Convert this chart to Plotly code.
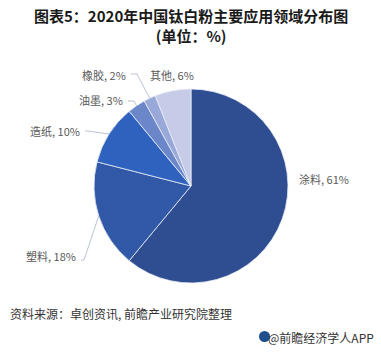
import math
import plotly.graph_objects as go

categories = ["涂料", "塑料", "造纸", "油墨", "橡胶", "其他"]
values = [61, 18, 10, 3, 2, 6]
colors = ["#2f4e92", "#3259a8", "#2f62be", "#6b86c9", "#98a8d8", "#c6cce8"]

title_line1 = "图表5：2020年中国钛白粉主要应用领域分布图"
title_line2 = "(单位：%)"
source_text = "资料来源：卓创资讯, 前瞻产业研究院整理"
brand_text = "@前瞻经济学人APP"

W, H = 381, 354
cx, cy, R = 191, 186, 97  # pie centre / radius in pixels

fig = go.Figure()
fig.add_trace(go.Pie(
    labels=categories,
    values=values,
    sort=False,
    direction="clockwise",
    rotation=0,
    marker=dict(colors=colors, line=dict(color="#e8ecf5", width=0.8)),
    textinfo="none",
    hoverinfo="label+percent",
    showlegend=False,
    domain=dict(x=[(cx - R) / W, (cx + R) / W], y=[(H - cy - R) / H, (H - cy + R) / H]),
))

# label layout: (text x, text y, anchor, leader elbow) in pixels
label_pos = {
    "涂料": (297, 179, "left", None),
    "塑料": (78, 256, "right", (84, 260)),
    "造纸": (82, 131, "right", (88, 131)),
    "油墨": (125, 100, "right", (134, 101)),
    "橡胶": (128, 75, "right", (137, 74)),
    "其他": (148, 75, "left", None),
}

total = sum(values)
cum = 0
shapes = []
annotations = []
for cat, v in zip(categories, values):
    mid = (cum + v / 2) / total * 2 * math.pi
    cum += v
    ex = cx + R * math.sin(mid)
    ey = cy - R * math.cos(mid)
    tx, ty, anchor, elbow = label_pos[cat]
    pct = round(v / total * 100)
    annotations.append(dict(
        x=tx / W, y=1 - ty / H, xref="paper", yref="paper",
        text=f"{cat}, {pct}%", showarrow=False,
        xanchor=anchor, yanchor="middle",
        font=dict(size=11, color="#595959", family="Noto Sans CJK SC"),
    ))
    if elbow is not None:
        sx = tx + 3
        path = (f"M {sx / W},{1 - elbow[1] / H} L {elbow[0] / W},{1 - elbow[1] / H} "
                f"L {ex / W},{1 - ey / H}")
        shapes.append(dict(type="path", xref="paper", yref="paper", path=path,
                           line=dict(color="#aab3c9", width=0.8)))

annotations += [
    dict(x=0.5, y=1 - 26 / H, xref="paper", yref="paper",
         text=f"<b>{title_line1}</b><br><b>{title_line2}</b>",
         showarrow=False, xanchor="center", yanchor="middle", align="center",
         font=dict(size=15, color="#1a1a1a", family="Noto Sans CJK SC")),
    dict(x=8 / W, y=1 - 313 / H, xref="paper", yref="paper", text=source_text,
         showarrow=False, xanchor="left", yanchor="middle",
         font=dict(size=12, color="#333333", family="Noto Sans CJK SC")),
    dict(x=376 / W, y=1 - 337 / H, xref="paper", yref="paper", text=brand_text,
         showarrow=False, xanchor="right", yanchor="middle",
         font=dict(size=12, color="#333333", family="Noto Sans CJK SC")),
]

# small logo circle before brand text
shapes.append(dict(type="circle", xref="paper", yref="paper",
                   x0=259 / W, x1=270 / W, y0=1 - 342 / H, y1=1 - 331 / H,
                   fillcolor="#1f4e8c", line=dict(width=0)))

fig.update_layout(
    width=W, height=H,
    margin=dict(l=0, r=0, t=0, b=0),
    paper_bgcolor="white", plot_bgcolor="white",
    shapes=shapes, annotations=annotations,
)

fig.write_html("out.html")
